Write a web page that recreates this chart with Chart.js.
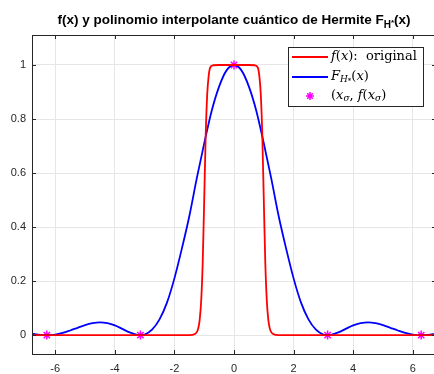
<!DOCTYPE html>
<html>
<head>
<meta charset="utf-8">
<script src="https://cdn.jsdelivr.net/npm/chart.js@4/dist/chart.umd.min.js"></script>
<style>
  html, body { margin: 0; padding: 0; background: #ffffff; overflow: hidden; }
  #wrap { width: 434px; height: 374px; overflow: hidden; }
</style>
</head>
<body>
<div id="wrap"><canvas id="hermiteChart" width="442" height="374"></canvas></div>
<script>
// original function f(x)
const fX = [-6.78, -4, -2, -1.5, -1.3, -1.25, -1.2, -1.15, -1.1, -1.05, -1.0, -0.95, -0.9, -0.85, -0.8, -0.7, -0.5, 0,
            0.5, 0.7, 0.8, 0.85, 0.9, 0.95, 1.0, 1.05, 1.1, 1.15, 1.2, 1.25, 1.3, 1.5, 2, 4, 6.78];
const fY = [0, 0, 0, 0, 0.005, 0.011, 0.025, 0.058, 0.13, 0.27, 0.5, 0.74, 0.89, 0.96, 0.99, 0.999, 1, 1,
            1, 0.999, 0.99, 0.96, 0.89, 0.74, 0.5, 0.27, 0.13, 0.058, 0.025, 0.011, 0.005, 0, 0, 0, 0];

// Hermite interpolant F_H*(x)
const hX = [-6.78, -6.5, -6.28, -6.0, -5.75, -5.5, -5.25, -5.0, -4.75, -4.5, -4.25, -4.0, -3.75, -3.5, -3.25, -3.14,
            -3.0, -2.75, -2.5, -2.25, -2.0, -1.75, -1.5, -1.25, -1.0, -0.75, -0.5, -0.25, 0,
            0.25, 0.5, 0.75, 1.0, 1.25, 1.5, 1.75, 2.0, 2.25, 2.5, 2.75, 3.0,
            3.14, 3.25, 3.5, 3.75, 4.0, 4.25, 4.5, 4.75, 5.0, 5.25, 5.5, 5.75, 6.0, 6.28, 6.5, 6.78];
const hY = [0.005, 0.001, 0, 0.002, 0.008, 0.017, 0.027, 0.037, 0.044, 0.047, 0.044, 0.036, 0.023, 0.010, 0.001, 0,
            0.002, 0.020, 0.058, 0.12, 0.21, 0.32, 0.44, 0.58, 0.71, 0.83, 0.92, 0.98, 1,
            0.98, 0.92, 0.83, 0.71, 0.58, 0.44, 0.32, 0.21, 0.12, 0.058, 0.020, 0.002,
            0, 0.001, 0.010, 0.023, 0.036, 0.044, 0.047, 0.044, 0.037, 0.027, 0.017, 0.008, 0.002, 0, 0.001, 0.005];

// interpolation nodes (x_sigma, f(x_sigma))
const nodeX = [-6.283, -3.1416, 0, 3.1416, 6.283];
const nodeY = [0, 0, 1, 0, 0];

const xTicks = [-6, -4, -2, 0, 2, 4, 6];
const yTicks = [0, 0.2, 0.4, 0.6, 0.8, 1];
const xRange = [-6.78, 6.78];
const yRange = [-0.07, 1.111];

const axisColor = '#262626';
const gridColor = '#e6e6e6';

const toPoints = (xs, ys) => xs.map((x, i) => ({ x: x, y: ys[i] }));

// draws a run of text pieces (italic / subscript) left to right, returns end x
function drawRuns(ctx, x, y, runs, family, size) {
    runs.forEach(r => {
        const s = r.size || size;
        ctx.font = (r.bold ? 'bold ' : '') + (r.italic ? 'italic ' : '') + s + 'px ' + family;
        const dy = r.dy || 0;
        ctx.fillText(r.t, x, y + dy);
        x += ctx.measureText(r.t).width;
    });
    return x;
}

function runsWidth(ctx, runs, family, size) {
    let w = 0;
    runs.forEach(r => {
        const s = r.size || size;
        ctx.font = (r.bold ? 'bold ' : '') + (r.italic ? 'italic ' : '') + s + 'px ' + family;
        w += ctx.measureText(r.t).width;
    });
    return w;
}

// Title, inward ticks and the LaTeX-ish legend
const decorPlugin = {
    id: 'decor',
    afterDraw(chart) {
        const ctx = chart.ctx;
        const area = chart.chartArea;
        const xs = chart.scales.x;
        const ys = chart.scales.y;
        ctx.save();

        // inward ticks
        ctx.strokeStyle = axisColor;
        ctx.lineWidth = 1;
        ctx.beginPath();
        xTicks.forEach(v => {
            const px = Math.round(xs.getPixelForValue(v)) + 0.5;
            ctx.moveTo(px, area.bottom); ctx.lineTo(px, area.bottom - 4);
            ctx.moveTo(px, area.top); ctx.lineTo(px, area.top + 4);
        });
        yTicks.forEach(v => {
            const py = Math.round(ys.getPixelForValue(v)) + 0.5;
            ctx.moveTo(area.left, py); ctx.lineTo(area.left + 4, py);
            ctx.moveTo(area.right, py); ctx.lineTo(area.right - 4, py);
        });
        ctx.stroke();
        ctx.strokeRect(area.left + 0.5, area.top + 0.5, area.right - area.left - 1, area.bottom - area.top);

        // title
        const tf = '"Liberation Sans", Arial, sans-serif';
        const titleRuns = [
            { t: 'f(x) y polinomio interpolante cuántico de Hermite F', bold: true },
            { t: 'H', bold: true, size: 10, dy: 4 },
            { t: '*', bold: true, size: 8, dy: 1 },
            { t: '(x)', bold: true }
        ];
        ctx.fillStyle = '#000000';
        ctx.textBaseline = 'alphabetic';
        ctx.textAlign = 'left';
        const tw = runsWidth(ctx, titleRuns, tf, 13.5);
        drawRuns(ctx, (area.left + area.right) / 2 - tw / 2, 24, titleRuns, tf, 13.5);

        // legend
        const lx = 288, ly = 47, lw = 135, lh = 59;
        ctx.fillStyle = '#ffffff';
        ctx.fillRect(lx, ly, lw, lh);
        ctx.lineWidth = 1;
        ctx.strokeStyle = axisColor;
        ctx.strokeRect(lx + 0.5, ly + 0.5, lw, lh);

        const sf = '"DejaVu Serif", "Liberation Serif", serif';
        const rows = [57, 77, 96];
        ctx.lineWidth = 1.8;
        ctx.strokeStyle = '#ff0000';
        ctx.beginPath(); ctx.moveTo(292, rows[0]); ctx.lineTo(328, rows[0]); ctx.stroke();
        ctx.strokeStyle = '#0000ff';
        ctx.beginPath(); ctx.moveTo(292, rows[1]); ctx.lineTo(328, rows[1]); ctx.stroke();

        // star marker
        ctx.strokeStyle = '#ff00ff';
        ctx.lineWidth = 1.5;
        ctx.beginPath();
        for (let k = 0; k < 4; k++) {
            const a = k * Math.PI / 4;
            ctx.moveTo(310 - 4 * Math.cos(a), rows[2] - 4 * Math.sin(a));
            ctx.lineTo(310 + 4 * Math.cos(a), rows[2] + 4 * Math.sin(a));
        }
        ctx.stroke();

        ctx.fillStyle = '#000000';
        ctx.textBaseline = 'middle';
        drawRuns(ctx, 331, rows[0], [
            { t: 'f', italic: true }, { t: '(' }, { t: 'x', italic: true }, { t: '):  original' }
        ], sf, 13);
        drawRuns(ctx, 331, rows[1], [
            { t: 'F', italic: true }, { t: 'H', italic: true, size: 9, dy: 3 }, { t: '*', size: 7, dy: 4 },
            { t: '(' }, { t: 'x', italic: true }, { t: ')' }
        ], sf, 13);
        drawRuns(ctx, 331, rows[2], [
            { t: '(' }, { t: 'x', italic: true }, { t: 'σ', italic: true, size: 9, dy: 3 },
            { t: ', ' }, { t: 'f', italic: true }, { t: '(' }, { t: 'x', italic: true },
            { t: 'σ', italic: true, size: 9, dy: 3 }, { t: ')' }
        ], sf, 13);

        ctx.restore();
    }
};

const ctx = document.getElementById('hermiteChart').getContext('2d');
const chart = new Chart(ctx, {
    type: 'line',
    data: {
        datasets: [{
            label: 'f(x): original',
            data: toPoints(fX, fY),
            borderColor: '#ff0000',
            borderWidth: 1.8,
            pointRadius: 0,
            cubicInterpolationMode: 'monotone',
            fill: false
        }, {
            label: 'F_H*(x)',
            data: toPoints(hX, hY),
            borderColor: '#0000ff',
            borderWidth: 1.8,
            pointRadius: 0,
            cubicInterpolationMode: 'monotone',
            fill: false
        }, {
            label: '(x_σ, f(x_σ)',
            data: toPoints(nodeX, nodeY),
            showLine: false,
            pointStyle: 'star',
            pointRadius: 4.5,
            pointBorderWidth: 1.5,
            pointBorderColor: '#ff00ff',
            pointBackgroundColor: '#ff00ff'
        }]
    },
    options: {
        responsive: false,
        animation: false,
        layout: { padding: { top: 35, right: 3, left: 0, bottom: 0 } },
        scales: {
            x: {
                type: 'linear',
                min: xRange[0],
                max: xRange[1],
                afterBuildTicks: (scale) => { scale.ticks = xTicks.map(v => ({ value: v })); },
                afterFit: (scale) => { scale.height = 20; },
                ticks: {
                    color: axisColor,
                    font: { family: '"Liberation Sans", Arial, sans-serif', size: 11 },
                    padding: 8,
                    maxRotation: 0
                },
                grid: { color: gridColor, drawTicks: false },
                border: { display: false }
            },
            y: {
                type: 'linear',
                min: yRange[0],
                max: yRange[1],
                afterBuildTicks: (scale) => { scale.ticks = yTicks.map(v => ({ value: v })); },
                afterFit: (scale) => { scale.width = 32; },
                ticks: {
                    color: axisColor,
                    font: { family: '"Liberation Sans", Arial, sans-serif', size: 11 },
                    padding: 6,
                    callback: (v) => String(Math.round(v * 10) / 10)
                },
                grid: { color: gridColor, drawTicks: false },
                border: { display: false }
            }
        },
        plugins: {
            legend: { display: false },
            title: { display: false },
            tooltip: { enabled: false }
        }
    },
    plugins: [decorPlugin]
});
</script>
</body>
</html>
